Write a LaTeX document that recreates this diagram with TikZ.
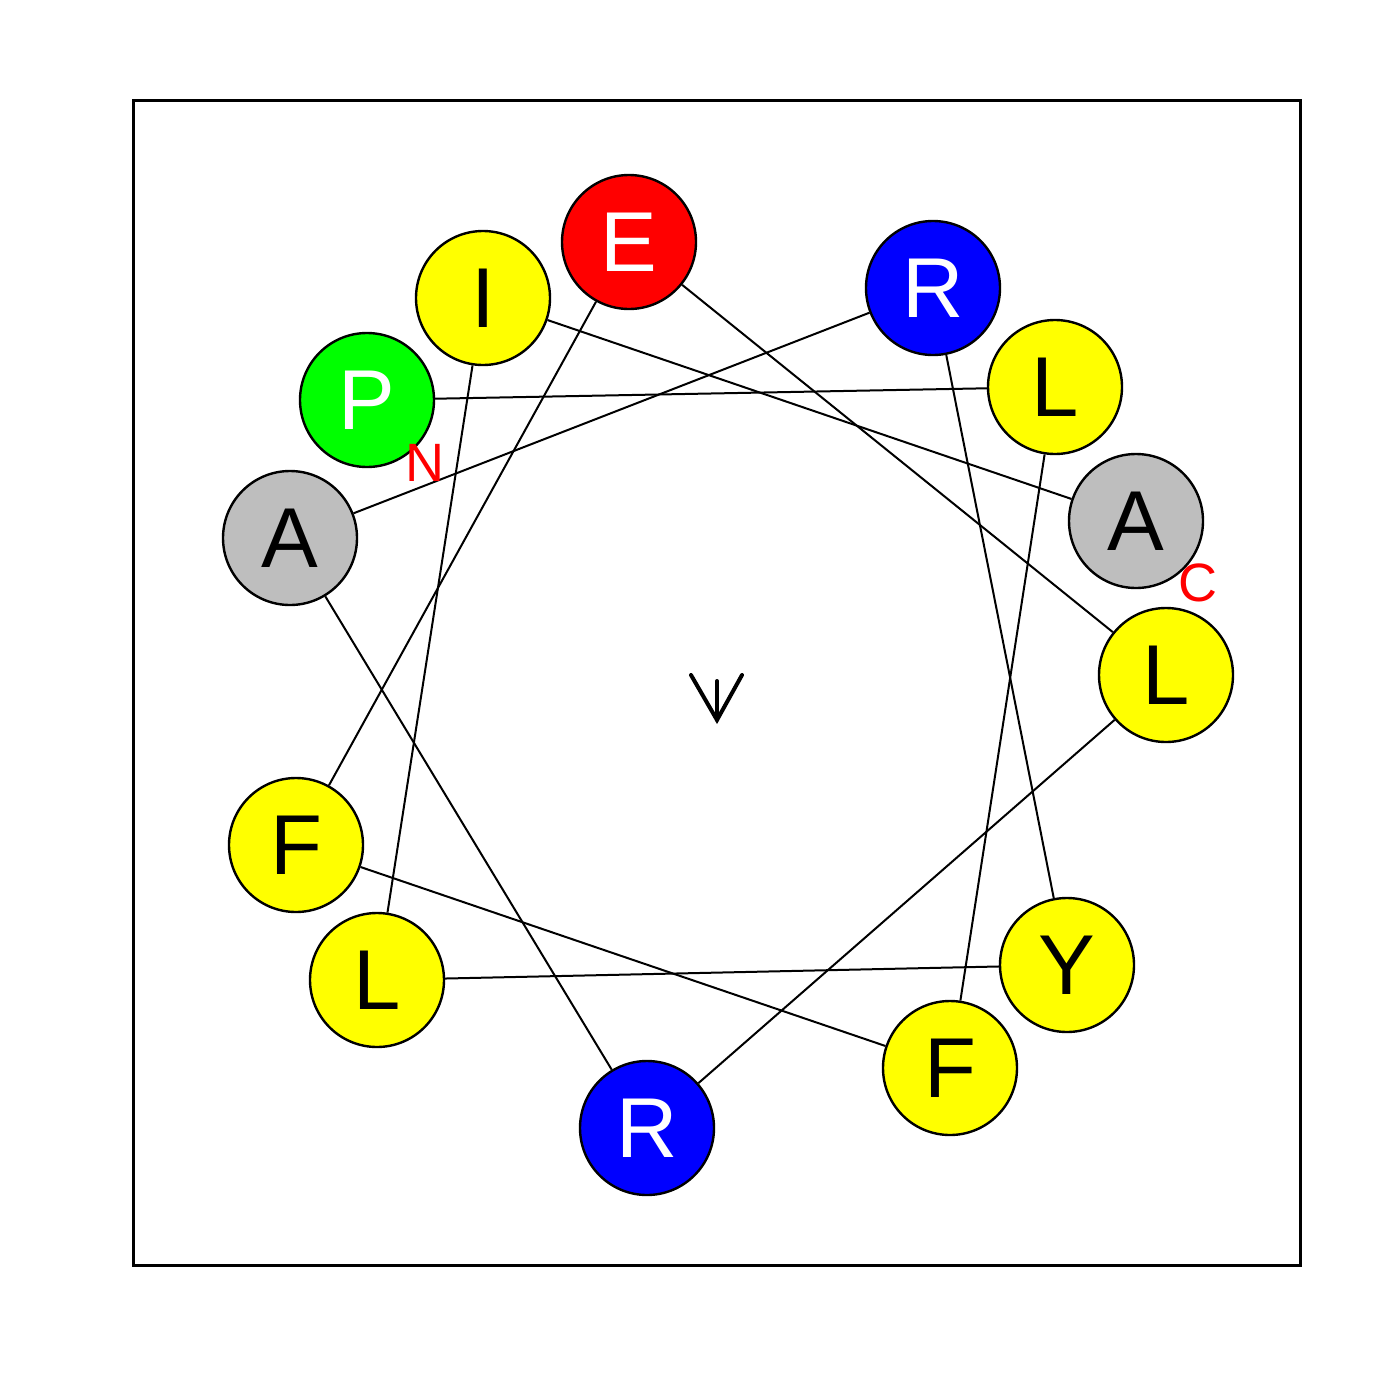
\documentclass[tikz,border=0pt]{standalone}
\usepackage{fontspec}
\setmainfont{Liberation Sans}
\definecolor{resyellow}{RGB}{255,255,0}
\definecolor{resred}{RGB}{255,0,0}
\definecolor{resblue}{RGB}{0,0,255}
\definecolor{resgreen}{RGB}{0,255,0}
\definecolor{resgray}{RGB}{190,190,190}
\begin{document}
\begin{tikzpicture}[x=1pt,y=-1pt,
  res/.style={circle,draw=black,line width=2.4pt,minimum size=134pt,inner sep=0pt,
    font=\fontsize{85}{85}\selectfont},
  yel/.style={res,fill=resyellow,text=black},
  gry/.style={res,fill=resgray,text=black},
  blu/.style={res,fill=resblue,text=white},
  rd/.style={res,fill=resred,text=white},
  grn/.style={res,fill=resgreen,text=white},
  link/.style={line width=2pt,black},
  term/.style={text=resred,font=\fontsize{54}{54}\selectfont,inner sep=0pt}]
\useasboundingbox (0,0) rectangle (1400,1400);
\draw[line width=3pt] (133,100) rectangle (1300,1265);
% residues
\node[grn] (P)  at (367,400) {P};
\node[yel] (L1) at (1055,387) {L};
\node[yel] (F1) at (950,1068) {F};
\node[yel] (F2) at (296,845) {F};
\node[rd]  (E)  at (629,242) {E};
\node[yel] (L2) at (1166,675) {L};
\node[blu] (R1) at (647,1128) {R};
\node[gry] (A1) at (290,538) {A};
\node[blu] (R2) at (933,288) {R};
\node[yel] (Y)  at (1067,965) {Y};
\node[yel] (L3) at (377,980) {L};
\node[yel] (I)  at (483,298) {I};
\node[gry] (A2) at (1136,521) {A};
% connectors
\draw[link] (P) -- (L1);
\draw[link] (L1) -- (F1);
\draw[link] (F1) -- (F2);
\draw[link] (F2) -- (E);
\draw[link] (E) -- (L2);
\draw[link] (L2) -- (R1);
\draw[link] (R1) -- (A1);
\draw[link] (A1) -- (R2);
\draw[link] (R2) -- (Y);
\draw[link] (Y) -- (L3);
\draw[link] (L3) -- (I);
\draw[link] (I) -- (A2);
% terminus labels
\node[term] (Nlab) at (425,463) {N};
\node[term] (Clab) at (1198,583) {C};
% moment arrow
\coordinate (tip) at (717,720);
\coordinate (tail) at (717,681);
\coordinate (wl) at (691,675);
\coordinate (wr) at (742,675);
\draw[line width=4pt,line cap=round] (tail) -- (tip);
\draw[line width=4pt,line cap=round,line join=miter] (wl) -- (tip) -- (wr);
\end{tikzpicture}
\end{document}
